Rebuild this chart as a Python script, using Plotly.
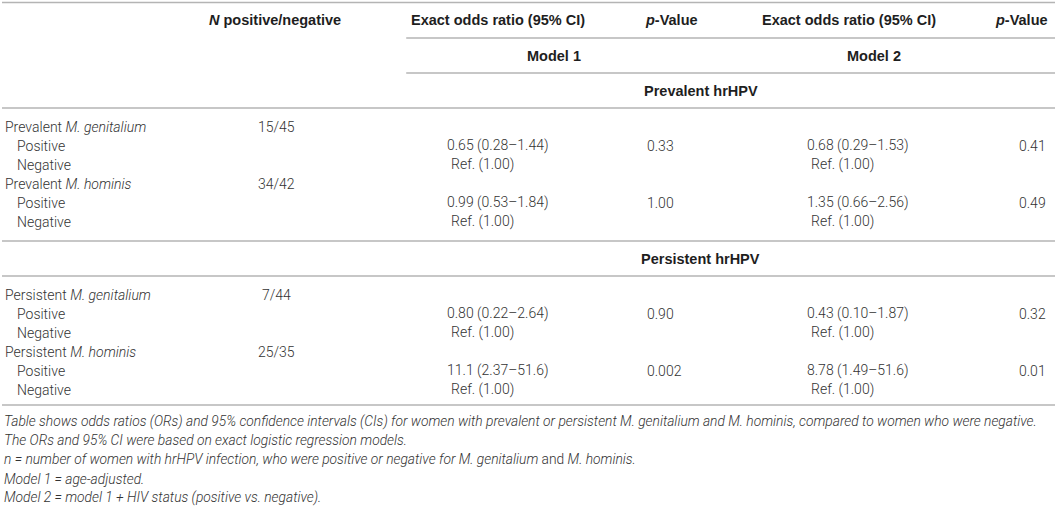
import plotly.graph_objects as go

# ---- table contents ----
header_labels = ["<i>N</i> positive/negative", "Exact odds ratio (95% CI)", "<i>p</i>-Value",
                 "Exact odds ratio (95% CI)", "<i>p</i>-Value"]
model_labels = ["Model 1", "Model 2"]
section_labels = ["Prevalent hrHPV", "Persistent hrHPV"]

organism_labels = [
    ["Prevalent <i>M. genitalium</i>", "Prevalent <i>M. hominis</i>"],
    ["Persistent <i>M. genitalium</i>", "Persistent <i>M. hominis</i>"],
]
n_pos_neg = [["15/45", "34/42"], ["7/44", "25/35"]]
or_model1 = [["0.65 (0.28–1.44)", "0.99 (0.53–1.84)"], ["0.80 (0.22–2.64)", "11.1 (2.37–51.6)"]]
p_model1 = [["0.33", "1.00"], ["0.90", "0.002"]]
or_model2 = [["0.68 (0.29–1.53)", "1.35 (0.66–2.56)"], ["0.43 (0.10–1.87)", "8.78 (1.49–51.6)"]]
p_model2 = [["0.41", "0.49"], ["0.32", "0.01"]]
sub_rows = ["Positive", "Negative"]
ref_label = "Ref. (1.00)"

footnotes = [
    "Table shows odds ratios (ORs) and 95% confidence intervals (CIs) for women with prevalent or persistent M. genitalium and M. hominis, compared to women who were negative.",
    "The ORs and 95% CI were based on exact logistic regression models.",
    "n = number of women with hrHPV infection, who were positive or negative for M. genitalium <span style='font-style:normal'>and</span> M. hominis.",
    "Model 1 = age-adjusted.",
    "Model 2 = model 1 + HIV status (positive vs. negative).",
]

# ---- styling / geometry ----
W, H = 1055, 506
BODY = dict(family="Roboto, Liberation Sans, Arial", size=14, color="#333333", weight=300)
FOOT = dict(BODY, size=13.8)
BOLD = dict(family="Liberation Sans, Arial", size=14.5, color="#1e1e1e", weight="bold")
RULE = dict(color="#b4b4b4", width=1.6)

ROW_H = 18.9
header_centers = [274, 497, 671, 849, 1021]
model_centers = [553, 874]
section_center = 700

annotations = []


def add_text(x, y, text, font, anchor="left"):
    annotations.append(dict(x=x, y=y, text=text, xref="x", yref="y", showarrow=False,
                            xanchor=anchor, yanchor="middle", font=font))


shapes = []


def add_line(x0, x1, y):
    shapes.append(dict(type="line", xref="x", yref="y", x0=x0, x1=x1, y0=y, y1=y,
                       line=RULE, layer="above"))


# header
add_line(0, W, 2.5)
for cx, lab in zip(header_centers, header_labels):
    add_text(cx, 20, lab, BOLD, "center")
add_line(405, W, 38)
for cx, lab in zip(model_centers, model_labels):
    add_text(cx, 55.5, lab, BOLD, "center")
add_line(405, W, 73)

section_tops = [73, 241]
for s, sec in enumerate(section_labels):
    top = section_tops[s]
    if s > 0:
        add_line(0, W, top)
    add_text(section_center, top + 17.5, sec, BOLD, "center")
    add_line(0, W, top + 35)
    y = top + 35 + 19
    for k in range(2):
        add_text(1, y, organism_labels[s][k], BODY)
        add_text(275, y, n_pos_neg[s][k], BODY, "center")
        y += ROW_H
        add_text(13, y, sub_rows[0], BODY)
        add_text(444, y, or_model1[s][k], BODY)
        add_text(644, y, p_model1[s][k], BODY)
        add_text(805, y, or_model2[s][k], BODY)
        add_text(1017, y, p_model2[s][k], BODY)
        y += ROW_H
        add_text(13, y, sub_rows[1], BODY)
        add_text(448, y, ref_label, BODY)
        add_text(809, y, ref_label, BODY)
        y += ROW_H
# closing rule of the table body
add_line(0, W, 405)

for i, fn in enumerate(footnotes):
    add_text(0, 421 + i * 19.2, "<i>" + fn + "</i>", FOOT)

fig = go.Figure()
fig.update_layout(
    width=W, height=H,
    margin=dict(l=0, r=0, t=0, b=0),
    paper_bgcolor="white", plot_bgcolor="white",
    xaxis=dict(range=[-2, W], visible=False, fixedrange=True),
    yaxis=dict(range=[H, 0], visible=False, fixedrange=True),
    annotations=annotations,
    shapes=shapes,
    showlegend=False,
)
# drop the page margin, then let plotly redraw in the new spot
post = ("document.body.style.margin='0';"
        "var gd=document.getElementById('{plot_id}');"
        "Plotly.Plots.resize(gd);")
fig.write_html("out.html", config={"displayModeBar": False}, post_script=post)
